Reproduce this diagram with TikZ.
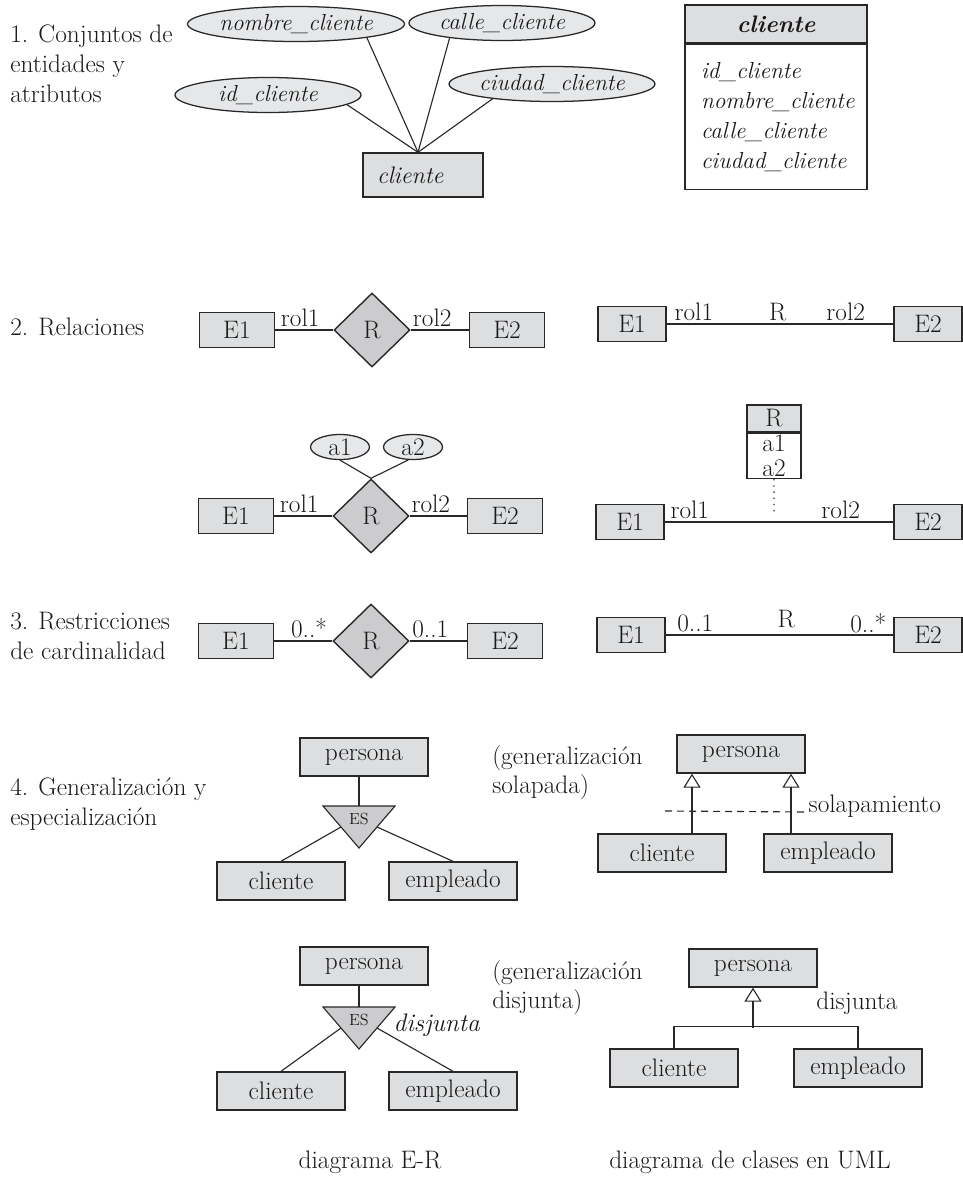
\documentclass[tikz,border=0pt]{standalone}
\usepackage{tikz}
\usetikzlibrary{positioning,arrows.meta,shapes.geometric}

\definecolor{boxgray}{RGB}{221,222,224}
\definecolor{relgray}{RGB}{204,204,206}
\definecolor{attgray}{RGB}{230,231,233}
\definecolor{inkgray}{RGB}{40,40,40}

\begin{document}
\begin{tikzpicture}[
  x=0.25mm, y=-0.25mm,
  every node/.style={font=\fontsize{18}{21}\selectfont, text=black!90},
  ent/.style={draw=inkgray, line width=1pt, fill=boxgray, inner sep=0pt,
              minimum width=18.75mm, minimum height=8.75mm},
  uent/.style={ent, minimum width=17mm},
  gent/.style={ent, minimum width=32mm, minimum height=9.5mm},
  rel/.style={diamond, draw=inkgray, line width=1pt, fill=relgray, inner sep=0pt,
              minimum width=19mm, minimum height=18.5mm},
  att/.style={ellipse, draw=inkgray, line width=0.9pt, fill=attgray, inner sep=0pt,
              minimum width=46.5mm, minimum height=8.75mm,
              font=\fontsize{16.5}{21}\selectfont\itshape},
  satt/.style={att, minimum width=14.75mm, minimum height=6.25mm,
               font=\fontsize{18}{21}\selectfont},
  link/.style={draw=inkgray, line width=0.8pt},
  isa/.style={link, -{Triangle[open, length=3.5mm, width=4.3mm]}},
  lbl/.style={align=left, anchor=north west, inner sep=0pt},
  rlabel/.style={above, inner sep=2pt},
]
\useasboundingbox (0,0) rectangle (962,1190);

% ---- 1. entity set and its attributes ----
\node[lbl] (t1) at (10,25) {1. Conjuntos de\\entidades y\\atributos};
\node[ent, minimum width=30mm, minimum height=11mm, text width=23mm, align=left,
      font=\fontsize{17}{21}\selectfont\itshape] (cli) at (423,175) {cliente};
\node[att] (nom) at (296,24) {nombre\_cliente};
\node[att] (cal) at (502,23) {calle\_cliente};
\node[att] (idc) at (268,95) {id\_cliente};
\node[att] (ciu) at (552,84) {ciudad\_cliente};
\coordinate (cjoin) at ([xshift=-1.25mm]cli.north);
\foreach \a/\ang in {nom/-11, cal/196, idc/353, ciu/194}
  \draw[link] (\a.\ang) -- (cjoin);

% UML class
\node[ent, minimum width=45.5mm, minimum height=9.5mm,
      font=\fontsize{17}{21}\selectfont\bfseries\itshape] (ccls) at (776,24) {cliente};
\node[draw=inkgray, line width=1pt, fill=white, anchor=north, inner sep=0pt,
      minimum width=45.5mm, minimum height=36.25mm, text width=37.5mm, align=left,
      font=\fontsize{16.5}{21.5}\selectfont\itshape] (cbody) at (ccls.south)
  {id\_cliente\\nombre\_cliente\\calle\_cliente\\ciudad\_cliente};

% ---- 2. relationships ----
\node[lbl] (t2) at (10,318) {2. Relaciones};
\node[ent] (e1a) at (237,330) {E1};
\node[rel] (ra) at (372,330) {R};
\node[ent] (e2a) at (507,330) {E2};
\draw[link] (e1a) -- node[rlabel, pos=0.43] {rol1} (ra);
\draw[link] (ra) -- node[rlabel, pos=0.37] {rol2} (e2a);

\node[uent] (ue1a) at (632,324) {E1};
\node[uent] (ue2a) at (928,324) {E2};
\draw[link] (ue1a) -- node[rlabel, pos=0.12] {rol1} node[rlabel, pos=0.49] {R}
  node[rlabel, pos=0.79] {rol2} (ue2a);

% relationship with attributes
\node[ent] (e1b) at (236,516) {E1};
\node[rel] (rb) at (371,516) {R};
\node[ent] (e2b) at (505,516) {E2};
\node[satt] (a1) at (340,447) {a1};
\node[satt] (a2) at (413,447) {a2};
\draw[link] (e1b) -- node[rlabel, pos=0.43] {rol1} (rb);
\draw[link] (rb) -- node[rlabel, pos=0.37] {rol2} (e2b);
\draw[link] (a1.south) -- (rb.north);
\draw[link] (a2.250) -- (rb.north);

\node[ent, minimum width=13.5mm, minimum height=6.75mm] (rcls) at (774,418.5) {R};
\node[draw=inkgray, line width=1pt, fill=white, anchor=north, inner sep=0pt,
      minimum width=13.5mm, minimum height=11.25mm, align=center,
      font=\fontsize{18}{18}\selectfont] (rbody) at (rcls.south) {a1\\a2};
\node[uent] (ue1b) at (630,522) {E1};
\node[uent] (ue2b) at (928,522) {E2};
\draw[link] (ue1b) -- coordinate[pos=0.478] (assoc)
  node[rlabel, pos=0.11] {rol1} node[rlabel, pos=0.77] {rol2} (ue2b);
\draw[link, dash pattern=on 0.9pt off 3.5pt, shorten >=1.5mm] (rbody.south) -- (assoc);

% ---- 3. cardinality constraints ----
\node[lbl] (t3) at (10,612) {3. Restricciones\\de cardinalidad};
\node[ent] (e1c) at (236,641) {E1};
\node[rel] (rc) at (371,641) {R};
\node[ent] (e2c) at (505,641) {E2};
\draw[link] (e1c) -- node[rlabel, pos=0.6] {0..*} (rc);
\draw[link] (rc) -- node[rlabel, pos=0.36] {0..1} (e2c);

\node[uent] (ue1c) at (631,635) {E1};
\node[uent] (ue2c) at (928,635) {E2};
\draw[link] (ue1c) -- node[rlabel, pos=0.13] {0..1} node[rlabel, pos=0.53, yshift=1mm] {R}
  node[rlabel, pos=0.89, inner sep=1pt] {0..*} (ue2c);

% ---- 4. generalization, E-R side ----
\node[lbl] (t4) at (10,778) {4. Generalización y\\especialización};
\foreach \g/\py/\ty/\cy in {a/757/806/881, b/966/1007/1091} {
  \node[gent] (pers\g) at (364,\py) {persona};
  \coordinate (tl\g) at (323,\ty);
  \coordinate (tr\g) at (395,\ty);
  \coordinate (tb\g) at (359,\ty+42);
  \coordinate (tt\g) at (359,\ty);
  \coordinate (sl\g) at (341,\ty+21);
  \coordinate (sr\g) at (377,\ty+21);
  \draw[link, fill=relgray] (tl\g) -- (tr\g) -- (tb\g) -- cycle;
  \node[font=\fontsize{11.5}{13}\selectfont] (es\g) at (359,\ty+13) {ES};
  \draw[link] (tt\g) -- (tt\g |- pers\g.south);
  \node[gent] (cli\g) at (281,\cy) {cliente};
  \node[gent] (emp\g) at (453,\cy) {empleado};
  \draw[link] (sl\g) -- (cli\g.north);
  \draw[link] (sr\g) -- (emp\g.north);
}
\node[anchor=west, inner sep=1pt, font=\fontsize{18}{21}\selectfont\itshape]
  (disj) at (392,1025) {disjunta};

% ---- 4. generalization, UML side ----
\node[lbl] (gsol) at (492,745) {(generalización\\solapada)};
\node[gent] (upa) at (741,754) {persona};
\node[gent] (ucla) at (662,853) {cliente};
\node[gent] (uema) at (828,853) {empleado};
\draw[isa] ([xshift=7.5mm]ucla.north) -- ([xshift=7.5mm]ucla.north |- upa.south);
\draw[isa] ([xshift=-9.25mm]uema.north) -- ([xshift=-9.25mm]uema.north |- upa.south);
\coordinate (ovl) at (665,811);
\node[anchor=base west, inner sep=1pt] (solap) at (807,812) {solapamiento};
\draw[link, dash pattern=on 1.75mm off 1.25mm] (ovl) -- (solap.base west);

\node[lbl] (gdis) at (492,960) {(generalización\\disjunta)};
\node[gent] (upb) at (753,968) {persona};
\node[gent] (uclb) at (674,1068) {cliente};
\node[gent] (uemb) at (858,1068) {empleado};
\draw[link] (uclb.north) -- ++(0,-22) -| (uemb.north);
\draw[isa] ([yshift=-10mm]upb.south) -- (upb.south);
\node (disjl) at (857,1003) {disjunta};

% ---- captions ----
\node (caper) at (370,1162) {diagrama E-R};
\node (capuml) at (750,1162) {diagrama de clases en UML};

\end{tikzpicture}
\end{document}
